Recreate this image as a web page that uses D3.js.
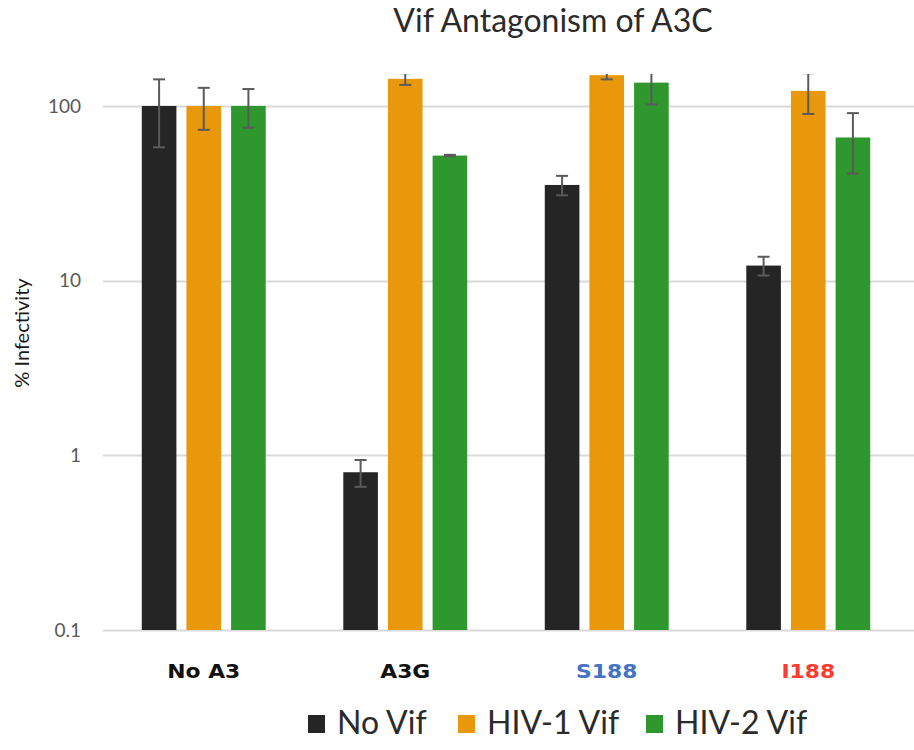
<!DOCTYPE html>
<html>
<head>
<meta charset="utf-8">
<script src="https://cdn.jsdelivr.net/npm/d3@7"></script>
<style>
  html, body { margin: 0; padding: 0; background: #fff; }
  svg { display: block; font-family: Lato, "Open Sans", sans-serif; }
</style>
</head>
<body>
<svg id="chart" width="914" height="750"></svg>
<script>
// ---- data ----
const categories = ["No A3", "A3G", "S188", "I188"];
const categoryColors = ["#111111", "#111111", "#4472C4", "#FF3B30"];
const series = ["No Vif", "HIV-1 Vif", "HIV-2 Vif"];
const seriesColors = ["#252525", "#E8980A", "#2E972E"];
const noVif = [100, 0.8, 35.3, 12.2];
const hiv1Vif = [100, 143, 150, 122];
const hiv2Vif = [100, 52, 136, 66];
const noVifErr = [42, 0.14, 4.5, 1.5];
const hiv1VifErr = [27, 11, 8, 32];
const hiv2VifErr = [25, 0.5, 34, 25];
const yTicks = [0.1, 1, 10, 100];
const yTickLabels = ["0.1", "1", "10", "100"];
const chartTitle = "Vif Antagonism of A3C";
const yTitle = "% Infectivity";

const values = [noVif, hiv1Vif, hiv2Vif];
const errors = [noVifErr, hiv1VifErr, hiv2VifErr];

// ---- layout ----
const svg = d3.select("#chart");
const mLeft = 103, mRight = 909, mTop = 74, mBottom = 630;

const y = d3.scaleLog().domain([0.1, 152.4]).range([mBottom, mTop]);
const x0 = d3.scaleBand().domain(categories).range([mLeft, mRight])
  .paddingInner(0.385).paddingOuter(0.1925);
const x1 = d3.scaleBand().domain(series).range([0, x0.bandwidth()]).paddingInner(0.225);

svg.append("defs").append("clipPath").attr("id", "plotclip")
  .append("rect").attr("x", 0).attr("y", mTop).attr("width", 914).attr("height", mBottom - mTop + 2);

// gridlines
svg.append("g").selectAll("line").data(yTicks).join("line")
  .attr("x1", mLeft).attr("x2", 914)
  .attr("y1", d => Math.round(y(d)) + 0.5).attr("y2", d => Math.round(y(d)) + 0.5)
  .attr("stroke", "#d9d9d9").attr("stroke-width", 2);

// y axis labels
const yAxis = d3.axisLeft(y).tickValues(yTicks)
  .tickFormat((d, i) => yTickLabels[i]).tickSize(0).tickPadding(0);
const ga = svg.append("g").attr("transform", `translate(81,0)`).call(yAxis);
ga.select(".domain").remove();
ga.selectAll("text").attr("font-family", "Lato, sans-serif").attr("font-size", 19)
  .attr("fill", "#595959");

// bars
const plot = svg.append("g").attr("clip-path", "url(#plotclip)");
series.forEach((s, si) => {
  const g = plot.append("g");
  g.selectAll("rect").data(categories).join("rect")
    .attr("x", (c) => x0(c) + x1(s))
    .attr("y", (c, i) => y(values[si][i]))
    .attr("width", x1.bandwidth())
    .attr("height", (c, i) => y(0.1) - y(values[si][i]))
    .attr("fill", seriesColors[si]);
  // error bars
  const eg = plot.append("g").attr("stroke", "#5a5a5a").attr("stroke-width", 2);
  categories.forEach((c, i) => {
    const cx = x0(c) + x1(s) + x1.bandwidth() / 2;
    const v = values[si][i], e = errors[si][i];
    const yHi = y(v + e), yLo = y(Math.max(v - e, 0.1));
    eg.append("line").attr("x1", cx).attr("x2", cx).attr("y1", yHi).attr("y2", yLo);
    eg.append("line").attr("x1", cx - 6).attr("x2", cx + 6).attr("y1", yHi).attr("y2", yHi);
    eg.append("line").attr("x1", cx - 6).attr("x2", cx + 6).attr("y1", yLo).attr("y2", yLo);
  });
});

// x labels
svg.append("g").selectAll("text").data(categories).join("text")
  .attr("transform", c => `translate(${x0(c) + x0.bandwidth() / 2},678) scale(1.15,1)`)
  .attr("text-anchor", "middle")
  .attr("font-family", "'DejaVu Sans', sans-serif")
  .attr("font-size", 19).attr("font-weight", "bold")
  .attr("fill", (c, i) => categoryColors[i])
  .text(c => c);

// title
svg.append("text").attr("x", 553).attr("y", 32).attr("text-anchor", "middle")
  .attr("font-size", 32).attr("fill", "#2b2b2b").text(chartTitle);

// y title
svg.append("text").attr("transform", "translate(29,333) rotate(-90)")
  .attr("text-anchor", "middle").attr("font-size", 20).attr("fill", "#1a1a1a").text(yTitle);

// legend
const legendX = [308, 458, 646];
const lg = svg.append("g");
series.forEach((s, i) => {
  lg.append("rect").attr("x", legendX[i]).attr("y", 715).attr("width", 17).attr("height", 18)
    .attr("fill", seriesColors[i]);
  lg.append("text").attr("x", legendX[i] + 29).attr("y", 734)
    .attr("font-size", 32).attr("fill", "#2b2b2b").text(s);
});
</script>
</body>
</html>
